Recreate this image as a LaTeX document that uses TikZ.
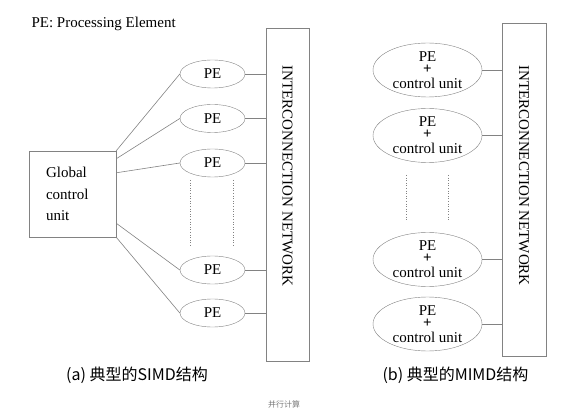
\documentclass[tikz,border=0pt]{standalone}
\usepackage{fontspec}
\setmainfont{Liberation Serif}
\newfontfamily\cjk{Noto Sans CJK SC}
\usetikzlibrary{shapes.geometric, positioning, calc}
\definecolor{edgegray}{RGB}{130,130,130}
\definecolor{notegray}{RGB}{120,120,120}

\begin{document}
\begin{tikzpicture}[x=1pt, y=-1pt,
    pe/.style={ellipse, draw=edgegray, inner sep=0pt, minimum width=65pt,
               minimum height=28pt, font=\fontsize{15}{18}\selectfont},
    pecu/.style={ellipse, draw=edgegray, inner sep=0pt, minimum width=109pt,
                 minimum height=54pt, align=center, font=\fontsize{15}{15}\selectfont},
    netbox/.style={rectangle, draw=edgegray, minimum width=43pt,
                   minimum height=333pt, inner sep=0pt},
    nettext/.style={rotate=-90, font=\fontsize{15}{18}\selectfont},
    link/.style={draw=edgegray, line width=0.6pt},
    dots/.style={draw=edgegray, dotted, line width=0.6pt},
    caption/.style={font=\cjk\fontsize{16}{18}\selectfont}]

    \useasboundingbox (0,0) rectangle (561,411);

    % Legend
    \node[anchor=base west, font=\fontsize{15}{18}\selectfont] (legend) at (28,28) {PE: Processing Element};

    % (a) SIMD
    \node[rectangle, draw=edgegray, minimum width=87pt, minimum height=86pt,
          text width=53pt, inner xsep=17pt, inner ysep=0pt, align=left,
          font=\fontsize{15}{21.5}\selectfont] (gcu) at (72.5,194) {Global\\control\\unit};

    \node[pe] (pe1) at (212.5,74) {PE};
    \node[pe] (pe2) at (212.5,118.5) {PE};
    \node[pe] (pe3) at (212.5,163) {PE};
    \node[pe] (pe4) at (212.5,270) {PE};
    \node[pe] (pe5) at (212.5,313) {PE};

    \node[netbox] (netA) at (287.5,194.5) {};
    \node[nettext] (netAtext) at (287.5,176) {INTERCONNECTION NETWORK};

    \draw[link] (gcu.north east) -- (pe1.west);
    \draw[link] ($(gcu.north east)+(0,8)$) -- (pe2.west);
    \draw[link] ($(gcu.north east)+(0,22)$) -- (pe3.west);
    \draw[link] ($(gcu.south east)+(0,-14)$) -- (pe4.west);
    \draw[link] (gcu.south east) -- (pe5.west);

    \draw[link] (pe1.east) -- (pe1.east -| netA.west);
    \draw[link] (pe2.east) -- (pe2.east -| netA.west);
    \draw[link] (pe3.east) -- (pe3.east -| netA.west);
    \draw[link] (pe4.east) -- (pe4.east -| netA.west);
    \draw[link] (pe5.east) -- (pe5.east -| netA.west);

    \draw[dots] (190,180) -- (190,247);
    \draw[dots] (233,180) -- (233,247);

    \node[caption] (capA) at (137,375) {(a) 典型的SIMD结构};

    % (b) MIMD
    \node[pecu] (cu1) at (427.5,70) {PE\\[-3pt]\textbf{+}\\[0pt]control unit};
    \node[pecu] (cu2) at (427.5,135.5) {PE\\[-3pt]\textbf{+}\\[0pt]control unit};
    \node[pecu] (cu3) at (427.5,259.5) {PE\\[-3pt]\textbf{+}\\[0pt]control unit};
    \node[pecu] (cu4) at (427.5,324) {PE\\[-3pt]\textbf{+}\\[0pt]control unit};

    \node[netbox, minimum width=44pt] (netB) at (524,189.5) {};
    \node[nettext] (netBtext) at (524,175.5) {INTERCONNECTION NETWORK};

    \draw[link] (cu1.east) -- (cu1.east -| netB.west);
    \draw[link] (cu2.east) -- (cu2.east -| netB.west);
    \draw[link] (cu3.east) -- (cu3.east -| netB.west);
    \draw[link] (cu4.east) -- (cu4.east -| netB.west);

    \draw[dots] (406,175) -- (406,220);
    \draw[dots] (448,175) -- (448,220);

    \node[caption] (capB) at (455.5,375) {(b) 典型的MIMD结构};

    % Footer
    \node[font=\cjk\fontsize{8}{10}\selectfont, text=notegray] (footer) at (284,404) {并行计算};
\end{tikzpicture}
\end{document}
